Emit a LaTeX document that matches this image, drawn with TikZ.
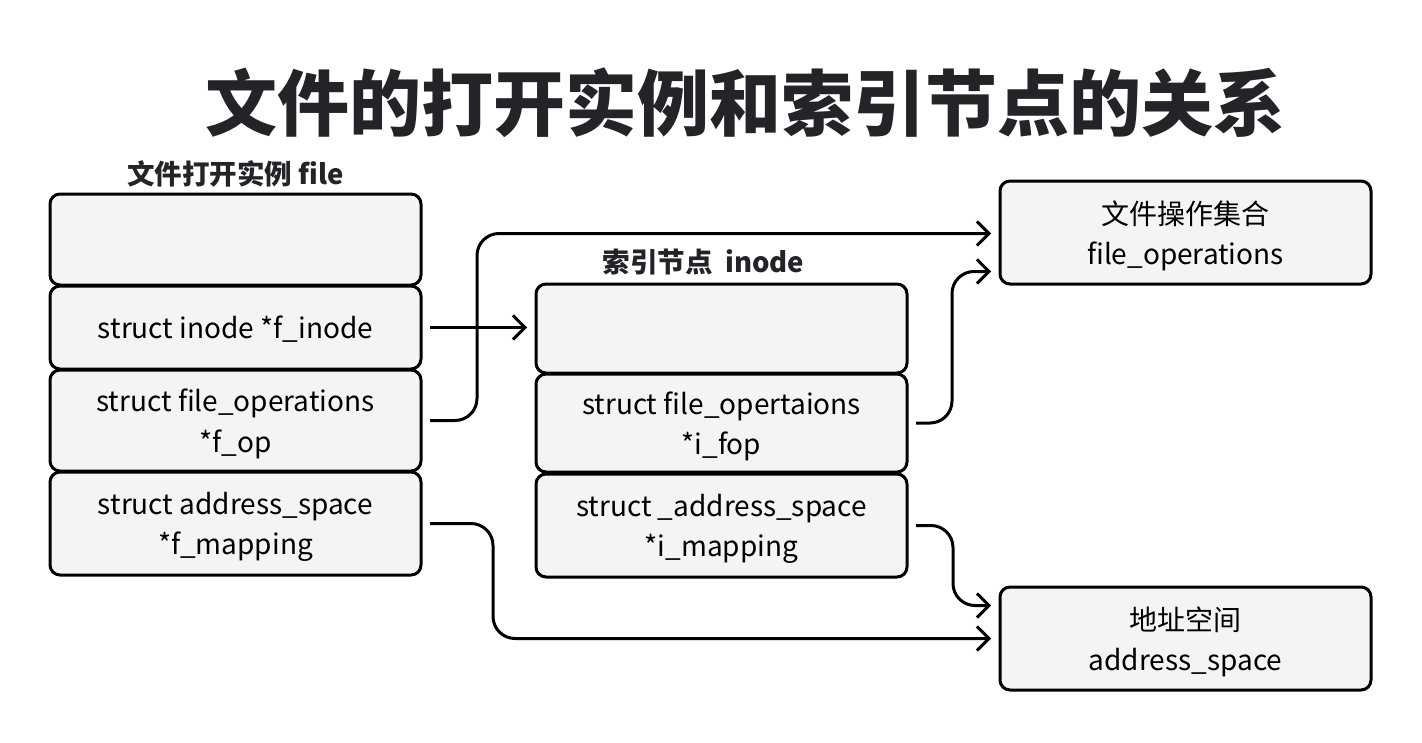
\documentclass[tikz,border=0pt]{standalone}
\usepackage{fontspec}
\setmainfont{Noto Sans CJK SC}
\usepackage{xcolor}
\usetikzlibrary{positioning,arrows.meta}

\definecolor{boxgray}{HTML}{F4F4F4}
\definecolor{titlegray}{HTML}{222428}

\tikzset{
	field/.style={draw, line width=3pt, rounded corners=10pt, fill=boxgray, minimum width=371pt, outer sep=0pt, align=center, text depth=0pt, font=\fontsize{28}{40.5}\selectfont},
	head/.style={font=\fontsize{27.5}{32}\selectfont\bfseries, text=titlegray},
	link/.style={line width=3pt, rounded corners=22pt, -{Straight Barb[length=12pt,width=24pt]}}
}

\begin{document}
\begin{tikzpicture}[x=1pt,y=-1pt]
	\useasboundingbox (0,0) rectangle (1422,742);

	\node[font=\fontsize{72}{80}\selectfont\bfseries, text=titlegray] (title) at (745,103) {文件的打开实例和索引节点的关系};

	\node[field, minimum height=91pt] (f1) at (235.5,239.5) {};
	\node[field, minimum height=83pt, below=1pt of f1] (f2) {struct inode *f\_inode};
	\node[field, minimum height=101pt, below=1pt of f2] (f3) {struct file\_operations\\*f\_op};
	\node[field, minimum height=103pt, below=1pt of f3] (f4) {struct address\_space\\*f\_mapping};
	\node[head, above=3pt of f1] (fhead) {文件打开实例 file};

	\node[field, minimum height=89pt] (i1) at (721.5,328.5) {};
	\node[field, minimum height=98pt, below=1pt of i1] (i2) {struct file\_opertaions\\*i\_fop};
	\node[field, minimum height=103pt, below=2pt of i2] (i3) {struct \_address\_space\\*i\_mapping};
	\node[head, above=5pt of i1, xshift=-18pt] (ihead) {索引节点~~inode};

	\node[field, minimum height=103pt] (fops) at (1185.5,232.5) {文件操作集合\\file\_operations};
	\node[field, minimum height=103pt] (aspace) at (1185.5,638.5) {地址空间\\address\_space};

	\draw[link] ([xshift=9pt]f2.east) -- ([xshift=-9pt]f2.east -| i1.west);
	\draw[link] ([xshift=9pt]f3.east) -- ++(47,0) |- ([xshift=-9pt,yshift=-1pt]fops.west);
	\draw[link] ([xshift=9pt]i2.east) -- ++(36,0) |- ([xshift=-9pt,yshift=-39pt]fops.west);
	\draw[link] ([xshift=9pt]i3.east) -- ++(37,0) |- ([xshift=-9pt,yshift=33pt]aspace.west);
	\draw[link] ([xshift=9pt]f4.east) -- ++(63,0) |- ([xshift=-9pt]aspace.west);
\end{tikzpicture}
\end{document}
